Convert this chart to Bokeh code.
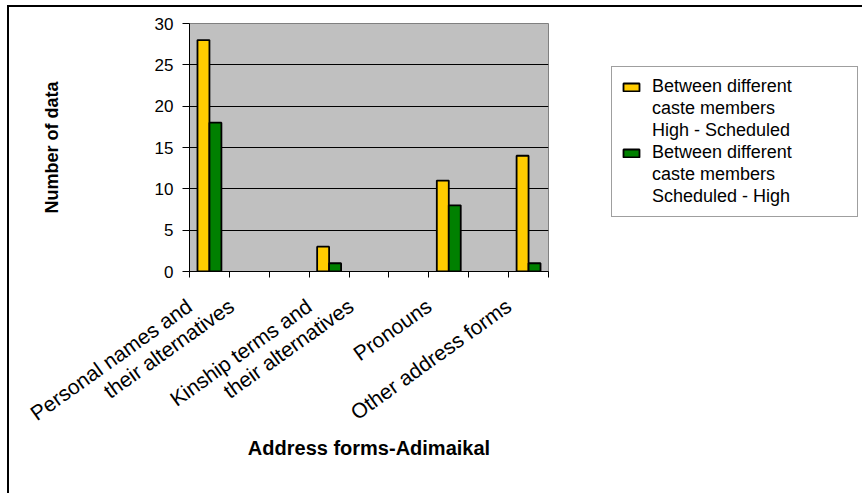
from bokeh.plotting import figure
from bokeh.models import Range1d, FixedTicker, Legend, LegendItem, ColumnDataSource
from bokeh.embed import file_html
from bokeh.resources import INLINE

# ---- data ----
categories = ["Personal names and\ntheir alternatives",
              "Kinship terms and\ntheir alternatives",
              "Pronouns",
              "Other address forms"]
slots = [0, 3, 6, 8]          # category slot on a 9-slot axis
n_slots = 9
high_scheduled = [28, 3, 11, 14]
scheduled_high = [18, 1, 8, 1]
series_names = ["Between different\ncaste members\nHigh - Scheduled",
                "Between different\ncaste members\nScheduled - High"]
series_colors = ["#FFCC00", "#008000"]
y_ticks = [0, 5, 10, 15, 20, 25, 30]

# ---- layout constants ----
bar_w = 0.3
FONT = "Liberation Sans"
first_line_shift = -0.5     # rotated labels end a little left of the slot centre
next_line_step = 1.05       # each further line of a label ends one slot further right

# one rotated tick label per text line
tick_pos, tick_txt = [], []
for s, c in zip(slots, categories):
    for i, line in enumerate(c.split("\n")):
        tick_pos.append(round(s + 0.5 + first_line_shift + i * next_line_step, 4))
        tick_txt.append(line)

p = figure(frame_width=359, frame_height=248, output_backend="svg", toolbar_location=None,
           x_range=Range1d(0, n_slots), y_range=Range1d(0, 30),
           min_border_left=180, min_border_right=314,
           min_border_top=16, min_border_bottom=222)
p.styles = {"margin-left": "7px", "margin-top": "5px",
            "border-left": "2px solid black", "border-top": "2px solid black"}
p.background_fill_color = "#C0C0C0"
p.border_fill_color = "white"
p.outline_line_color = "#808080"
p.outline_line_width = 1

src1 = ColumnDataSource(dict(x=[s + 0.5 - bar_w / 2 for s in slots], top=high_scheduled))
src2 = ColumnDataSource(dict(x=[s + 0.5 + bar_w / 2 for s in slots], top=scheduled_high))
r1 = p.vbar(x="x", top="top", width=bar_w, source=src1, fill_color=series_colors[0],
            line_color="black", line_width=1.8)
r2 = p.vbar(x="x", top="top", width=bar_w, source=src2, fill_color=series_colors[1],
            line_color="black", line_width=1.8)
# invisible, empty renderer used for the continuation lines of the legend labels
blank = p.vbar(x=[], top=[], width=bar_w, fill_alpha=0, line_alpha=0)

# grid
p.xgrid.visible = False
p.ygrid.grid_line_color = "black"
p.ygrid.grid_line_width = 1
p.ygrid.ticker = FixedTicker(ticks=y_ticks)

# y axis
ya = p.yaxis[0]
ya.ticker = FixedTicker(ticks=y_ticks)
ya.axis_line_color = "black"
ya.major_tick_out = 7
ya.major_tick_in = 0
ya.minor_tick_out = 0
ya.minor_tick_in = 0
ya.major_label_text_font = FONT
ya.major_label_text_font_size = "17px"
ya.major_label_text_color = "black"
ya.major_label_standoff = 9
ya.axis_label = "Number of data"
ya.axis_label_text_font = FONT
ya.axis_label_text_font_style = "bold"
ya.axis_label_text_font_size = "18px"
ya.axis_label_text_color = "black"
ya.axis_label_standoff = 90

# x axis
xa = p.xaxis[0]
xa.ticker = FixedTicker(ticks=tick_pos, minor_ticks=list(range(n_slots + 1)))
xa.major_label_overrides = {float(a): t for a, t in zip(tick_pos, tick_txt)}
xa.major_label_orientation = 0.62
xa.major_label_text_font = FONT
xa.major_label_text_font_size = "21px"
xa.major_label_text_color = "black"
xa.major_label_standoff = 26
xa.axis_line_color = "black"
xa.major_tick_out = 0
xa.major_tick_in = 0
xa.minor_tick_out = 6
xa.minor_tick_in = 0
xa.minor_tick_line_color = "black"
xa.axis_label = "Address forms-Adimaikal"
xa.axis_label_text_font = FONT
xa.axis_label_text_font_style = "bold"
xa.axis_label_text_font_size = "20px"
xa.axis_label_text_color = "black"
xa.axis_label_standoff = 0

# legend: glyph beside the first line of each series name
items = []
for name, r in zip(series_names, [r1, r2]):
    for i, line in enumerate(name.split("\n")):
        items.append(LegendItem(label=line, renderers=[r if i == 0 else blank]))
legend = Legend(items=items, location=(63, 54))
legend.label_text_font = FONT
legend.label_text_font_size = "18px"
legend.label_text_color = "black"
legend.glyph_width = 20
legend.glyph_height = 10
legend.label_height = 20
legend.label_standoff = 11
legend.label_width = 196
legend.padding = 9
legend.spacing = 1
legend.margin = 0
legend.border_line_color = "#404040"
legend.border_line_width = 1
legend.background_fill_color = "white"
p.add_layout(legend, "right")

open("out.html", "w").write(file_html(p, INLINE))
